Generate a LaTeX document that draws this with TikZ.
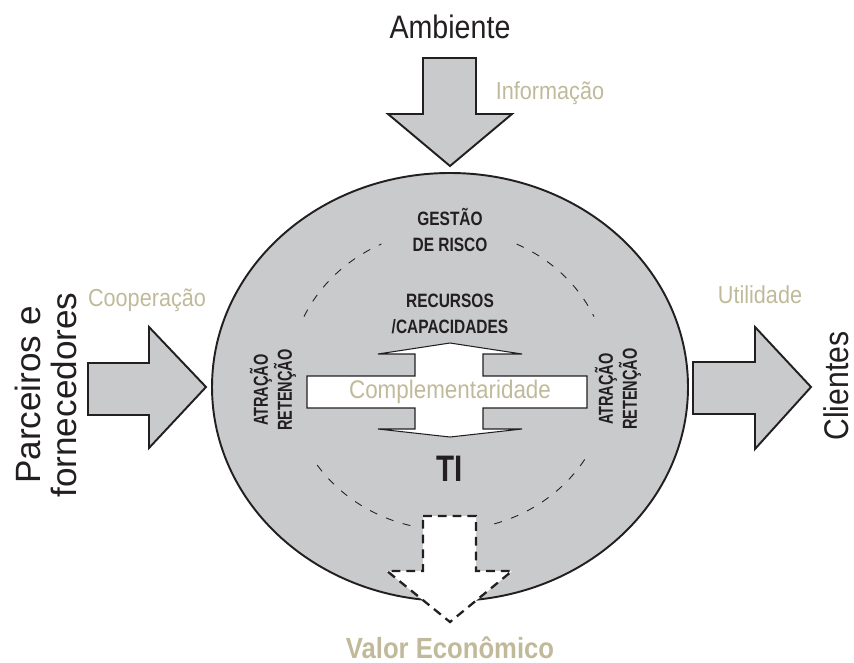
\documentclass[tikz,border=0pt]{standalone}
\usepackage{fontspec}
\setmainfont{Liberation Sans}
\newfontfamily\narrowfont[FakeStretch=0.88]{Liberation Sans}
\newfontfamily\tightfont[FakeStretch=0.8]{Liberation Sans}
\newfontfamily\sidefont[FakeStretch=0.72]{Liberation Sans}
\definecolor{discgray}{RGB}{201,202,204}
\definecolor{tanlabel}{RGB}{192,186,154}
\definecolor{inkdark}{RGB}{35,31,32}

\begin{document}
\begin{tikzpicture}[x=0.02cm,y=-0.02cm,
    blockarrow/.style={fill=discgray, draw=inkdark, line width=1.1pt, line join=miter},
    flowlabel/.style={text=tanlabel, font=\narrowfont\fontsize{14}{16}\selectfont},
    sidelabel/.style={text=inkdark, font=\narrowfont\fontsize{20}{20}\selectfont, align=center},
    innerlabel/.style={text=inkdark, font=\tightfont\bfseries\fontsize{11}{14.7}\selectfont, align=center}]
\useasboundingbox (0,0) rectangle (854,662);

% the firm
\draw[fill=discgray, draw=inkdark, line width=1.1pt] (450,387) ellipse [x radius=238, y radius=214];

% flows in and out
\draw[blockarrow] (423,58) -- (476,58) -- (476,114) -- (512,114) -- (450,166) -- (388,114) -- (423,114) -- cycle;
\draw[blockarrow] (88,363) -- (149,363) -- (149,327) -- (206,387) -- (149,448) -- (149,415) -- (88,415) -- cycle;
\draw[blockarrow] (693,362) -- (755,362) -- (755,327) -- (811,387) -- (755,449) -- (755,414) -- (693,414) -- cycle;

% risk boundary
\foreach \a/\b in {205/245, 295/335, 104/148, 32/76} {
    \draw[inkdark, line width=0.5pt, dash pattern=on 4.5pt off 5.5pt]
        (449,380) ++(\a:160 and 150) arc[start angle=\a, end angle=\b, x radius=160, y radius=150];
}

% resources cross
\draw[fill=white, draw=inkdark, line width=0.6pt] (450,343) -- (522,354) -- (483,354) -- (483,376) -- (587,376) -- (587,408)
    -- (483,408) -- (483,429) -- (522,429) -- (450,437) -- (378,429) -- (415,429) -- (415,408) -- (307,408)
    -- (307,376) -- (415,376) -- (415,354) -- (378,354) -- cycle;

% value out
\draw[fill=white, draw=inkdark, line width=1.3pt, dash pattern=on 5pt off 3.4pt]
    (423,516) -- (476,516) -- (476,571) -- (512,571) -- (450,622) -- (387,571) -- (423,571) -- cycle;

% labels
\node[sidelabel, font=\narrowfont\fontsize{18.5}{20}\selectfont] (ambiente) at (450,27) {Ambiente};
\node[flowlabel] (informacao) at (550,93) {Informação};
\node[flowlabel] (cooperacao) at (147,300) {Cooperação};
\node[flowlabel] (utilidade) at (760,295) {Utilidade};
\node[sidelabel, rotate=90, inner sep=1pt, font=\narrowfont\fontsize{19.5}{20}\selectfont] (clientes) at (836,386) {Clientes};
\node[sidelabel, rotate=90, font=\fontsize{20}{20}\selectfont] (parceiros) at (46,395) {Parceiros e\\fornecedores};
\node[innerlabel] (gestao) at (450,230) {GESTÃO\\DE RISCO};
\node[innerlabel] (recursos) at (450,314) {RECURSOS\\/CAPACIDADES};
\node[flowlabel, font=\narrowfont\fontsize{14.5}{16}\selectfont] (complementaridade) at (450,392) {Complementaridade};
\node[innerlabel, font=\tightfont\bfseries\fontsize{21}{21}\selectfont] (ti) at (450,469) {TI};
\node[innerlabel, rotate=90, font=\sidefont\bfseries\fontsize{11.5}{11}\selectfont] (atracaoesq) at (273,390) {ATRAÇÃO\\RETENÇÃO};
\node[innerlabel, rotate=90, font=\sidefont\bfseries\fontsize{11.5}{11}\selectfont] (atracaodir) at (618,389) {ATRAÇÃO\\RETENÇÃO};
\node[flowlabel, anchor=base, inner sep=0pt, font=\narrowfont\bfseries\fontsize{16.6}{18}\selectfont] (valor) at (450,658) {Valor Econômico};
\end{tikzpicture}
\end{document}
